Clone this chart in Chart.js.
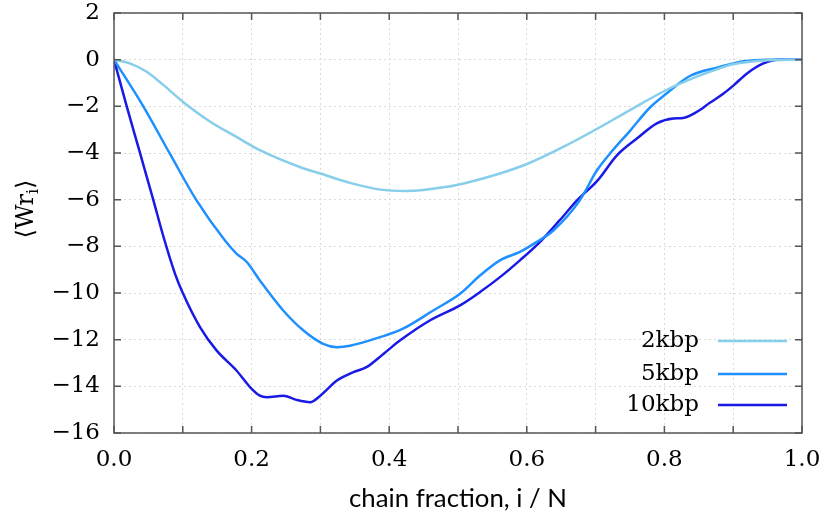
<!DOCTYPE html>
<html>
<head>
<meta charset="utf-8">
<script src="https://cdn.jsdelivr.net/npm/chart.js@4.4.1/dist/chart.umd.min.js"></script>
<style>
  html, body { margin: 0; padding: 0; background: #ffffff; }
  #wrap { width: 821px; height: 515px; }
</style>
</head>
<body>
<div id="wrap"><canvas id="c" width="821" height="515"></canvas></div>
<script>
// ---- data ----
const seriesNames = ["2kbp", "5kbp", "10kbp"];

const x2kbp = [0, 0.023, 0.0475, 0.072, 0.1, 0.14, 0.178, 0.212, 0.27, 0.3, 0.343, 0.387, 0.425, 0.484, 0.517, 0.561, 0.602, 0.653, 0.703, 0.75, 0.803, 0.847, 0.866, 0.9, 0.95, 1.0];
const y2kbp = [0, -0.16, -0.52, -1.09, -1.8, -2.66, -3.31, -3.88, -4.6, -4.88, -5.28, -5.57, -5.63, -5.45, -5.24, -4.88, -4.45, -3.74, -2.95, -2.16, -1.3, -0.73, -0.52, -0.2, -0.03, 0];

const x5kbp = [0, 0.043, 0.081, 0.12, 0.161, 0.178, 0.193, 0.212, 0.246, 0.275, 0.304, 0.324, 0.343, 0.387, 0.42, 0.464, 0.503, 0.532, 0.561, 0.59, 0.614, 0.639, 0.677, 0.702, 0.721, 0.75, 0.779, 0.803, 0.837, 0.878, 0.915, 0.95, 1.0];
const y5kbp = [0, -2.02, -4.02, -6.03, -7.74, -8.31, -8.67, -9.46, -10.75, -11.6, -12.18, -12.32, -12.26, -11.89, -11.53, -10.75, -10.03, -9.25, -8.6, -8.24, -7.82, -7.31, -6.03, -4.74, -4.02, -3.05, -2.05, -1.45, -0.7, -0.33, -0.07, 0, 0];

const x10kbp = [0, 0.018, 0.038, 0.057, 0.072, 0.089, 0.1, 0.125, 0.149, 0.178, 0.198, 0.212, 0.222, 0.246, 0.265, 0.285, 0.3, 0.324, 0.348, 0.367, 0.392, 0.416, 0.459, 0.503, 0.532, 0.561, 0.59, 0.619, 0.648, 0.673, 0.703, 0.731, 0.76, 0.789, 0.813, 0.827, 0.847, 0.866, 0.886, 0.901, 0.92, 0.944, 0.965, 1.0];
const y10kbp = [0, -1.95, -4.02, -6.0, -7.6, -9.2, -10.0, -11.46, -12.46, -13.32, -14.04, -14.4, -14.47, -14.4, -14.58, -14.68, -14.4, -13.75, -13.39, -13.18, -12.6, -12.03, -11.18, -10.53, -9.96, -9.32, -8.6, -7.82, -6.88, -6.03, -5.17, -4.1, -3.38, -2.73, -2.52, -2.5, -2.24, -1.85, -1.45, -1.09, -0.59, -0.16, 0, 0];

const xTickValues = [0, 0.1, 0.2, 0.3, 0.4, 0.5, 0.6, 0.7, 0.8, 0.9, 1.0];
const yTickValues = [2, 0, -2, -4, -6, -8, -10, -12, -14, -16];
const xTitle = "chain fraction, i / N";

const colors = ["#87CEEB", "#1E90FF", "#1A1AE6"];

function pts(xs, ys) { return xs.map((x, i) => ({ x: x, y: ys[i] })); }
const seriesX = [x2kbp, x5kbp, x10kbp];
const seriesY = [y2kbp, y5kbp, y10kbp];

const SERIF = "'DejaVu Serif', serif";
const SANS = "Lato, 'Open Sans', sans-serif";

const fmt = v => (v < 0 ? "\u2212" : "") + String(Math.abs(v));

const decorPlugin = {
  id: "decor",
  afterDatasetsDraw(chart) {
    const ctx = chart.ctx;
    const a = chart.chartArea;
    const xs = chart.scales.x, ys = chart.scales.y;
    ctx.save();
    // box
    ctx.strokeStyle = "#555555";
    ctx.lineWidth = 1.5;
    ctx.setLineDash([]);
    ctx.strokeRect(a.left, a.top, a.right - a.left, a.bottom - a.top);
    // inward ticks
    const tl = 7;
    xTickValues.forEach(v => {
      const px = xs.getPixelForValue(v);
      ctx.beginPath();
      ctx.moveTo(px, a.bottom); ctx.lineTo(px, a.bottom - tl);
      ctx.moveTo(px, a.top); ctx.lineTo(px, a.top + tl);
      ctx.stroke();
    });
    yTickValues.forEach(v => {
      const py = ys.getPixelForValue(v);
      ctx.beginPath();
      ctx.moveTo(a.left, py); ctx.lineTo(a.left + tl, py);
      ctx.moveTo(a.right, py); ctx.lineTo(a.right - tl, py);
      ctx.stroke();
    });
    // legend
    const legY = [341, 374, 405];
    ctx.font = "23px " + SERIF;
    ctx.fillStyle = "#000000";
    ctx.textAlign = "right";
    ctx.textBaseline = "middle";
    seriesNames.forEach((n, i) => {
      ctx.fillText(n, 699, legY[i]);
      ctx.strokeStyle = colors[i];
      ctx.lineWidth = 2.5;
      ctx.beginPath();
      ctx.moveTo(718, legY[i]); ctx.lineTo(787, legY[i]);
      ctx.stroke();
    });
    // x title
    ctx.fillStyle = "#000000";
    ctx.textAlign = "center";
    ctx.textBaseline = "alphabetic";
    let fs = 22;
    ctx.font = fs + "px " + SANS;
    const w = ctx.measureText(xTitle).width;
    fs = fs * 218 / w;
    ctx.font = fs.toFixed(2) + "px " + SANS;
    ctx.fillText(xTitle, (a.left + a.right) / 2, 507);
    // y title  <Wr_i>
    ctx.translate(33, 209);
    ctx.rotate(-Math.PI / 2);
    const big = "24px " + SERIF, small = "16px " + SERIF;
    const parts = [["\u27E8Wr", big, 0], ["i", small, 5], ["\u27E9", big, 0]];
    let total = 0;
    parts.forEach(p => { ctx.font = p[1]; total += ctx.measureText(p[0]).width; });
    let cx = -total / 2;
    ctx.textAlign = "left";
    parts.forEach(p => {
      ctx.font = p[1];
      ctx.fillText(p[0], cx, p[2]);
      cx += ctx.measureText(p[0]).width;
    });
    ctx.restore();
  }
};

new Chart(document.getElementById("c"), {
  type: "line",
  data: {
    datasets: seriesNames.map((n, i) => ({
      label: n,
      data: pts(seriesX[i], seriesY[i]),
      borderColor: colors[i],
      backgroundColor: colors[i],
      borderWidth: 2.5,
      pointRadius: 0,
      cubicInterpolationMode: "monotone",
      fill: false
    }))
  },
  options: {
    responsive: false,
    animation: false,
    layout: { padding: { left: 0, right: 19, top: 13, bottom: 0 } },
    plugins: { legend: { display: false }, tooltip: { enabled: false } },
    scales: {
      x: {
        type: "linear",
        min: 0, max: 1,
        afterFit: s => { s.height = 82; s.paddingLeft = 0; s.paddingRight = 0; },
        afterBuildTicks: s => { s.ticks = xTickValues.map(v => ({ value: v })); },
        border: { display: false, dash: [2, 3] },
        grid: { color: "#dadada", lineWidth: 1, drawTicks: false },
        ticks: {
          padding: 13,
          color: "#000000",
          font: { family: SERIF, size: 23 },
          maxRotation: 0,
          autoSkip: false,
          callback: v => {
            const k = Math.round(v * 10);
            return (k % 2 === 0) ? (k / 10).toFixed(1) : "";
          }
        }
      },
      y: {
        type: "linear",
        min: -16, max: 2,
        afterFit: s => { s.width = 114; s.paddingTop = 0; s.paddingBottom = 0; },
        afterBuildTicks: s => { s.ticks = yTickValues.map(v => ({ value: v })); },
        border: { display: false, dash: [2, 3] },
        grid: { color: "#dadada", lineWidth: 1, drawTicks: false },
        ticks: {
          padding: 14,
          color: "#000000",
          font: { family: SERIF, size: 23 },
          autoSkip: false,
          callback: v => fmt(v)
        }
      }
    }
  },
  plugins: [decorPlugin]
});
</script>
</body>
</html>
